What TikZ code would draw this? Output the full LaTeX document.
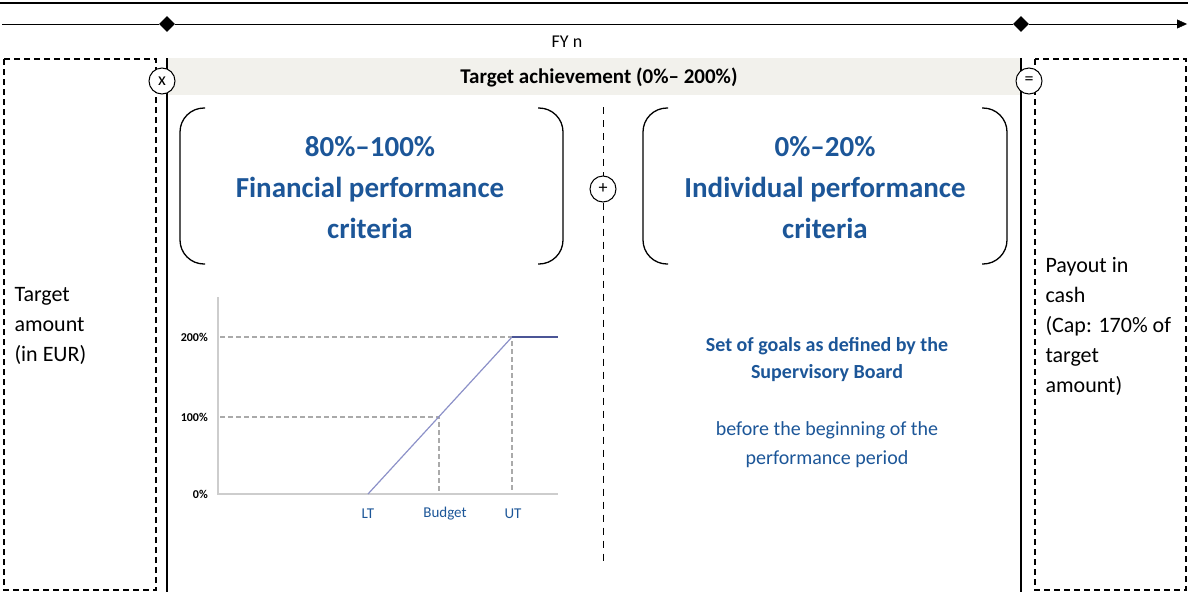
\documentclass[tikz,border=0pt]{standalone}
\usepackage{fontspec}
\setmainfont{Carlito}
\usetikzlibrary{arrows.meta, positioning, shapes.geometric}
\definecolor{accent}{RGB}{28,86,152}
\definecolor{band}{RGB}{242,241,236}
\definecolor{gridgray}{RGB}{170,170,170}
\definecolor{axisgray}{RGB}{205,205,205}
\definecolor{curve}{RGB}{140,145,200}
\definecolor{curvecap}{RGB}{75,85,150}

\begin{document}
\begin{tikzpicture}[x=1pt, y=-1pt,
   every node/.style={font=\fontsize{22}{30}\selectfont},
   op/.style={circle, draw, fill=white, line width=1pt, minimum size=26pt, inner sep=0pt, font=\fontsize{18}{18}\selectfont},
   ms/.style={diamond, fill=black, minimum size=16pt, inner sep=0pt},
   dbox/.style={draw, line width=1.3pt, dash pattern=on 6pt off 4pt},
   brk/.style={line width=1.3pt, rounded corners=24pt},
   head/.style={font=\fontsize{29}{41}\selectfont\bfseries, text=accent, align=center},
   axlab/.style={font=\fontsize{15}{15}\selectfont, text=accent},
   lvl/.style={font=\fontsize{12}{12}\selectfont\bfseries, anchor=east, inner sep=2pt},
   guide/.style={gridgray, line width=1.1pt, dash pattern=on 5pt off 3pt}]
  \useasboundingbox (0,0) rectangle (1188,592);

  % time line with the fiscal year
  \draw[line width=1.2pt] (0,3) -- (1188,3);
  \coordinate (t0) at (2,24);
  \coordinate (t1) at (1187,24);
  \node[ms] (fy0) at (167,24) {};
  \node[ms] (fy1) at (1021,24) {};
  \draw (t0) -- (fy0);
  \draw (fy0) -- (fy1);
  \draw[-{Triangle[length=10pt,width=9pt]}] (fy1) -- (t1);
  \node[font=\fontsize{18}{18}\selectfont] (fy) at (567,42) {FY n};

  % achievement band
  \fill[band] (167,58) rectangle (1021,95);
  \node[font=\fontsize{21}{21}\selectfont\bfseries] (goal) at (599,77) {Target achievement (0\%-- 200\%)};

  % target amount and payout
  \draw[dbox] (4,59) rectangle (156,590);
  \draw[dbox] (1035,59) rectangle (1186,590);
  \draw[line width=1.3pt] (167,58) -- (167,592);
  \draw[line width=1.3pt] (1021,58) -- (1021,592);
  \node[align=left, anchor=west] (amt) at (11,326) {Target\\amount\\(in EUR)};
  \node[align=left, anchor=west] (pay) at (1042,326) {Payout in\\cash\\(Cap: 170\% of\\target\\amount)};
  \node[op] (mul) at (162,81) {x};
  \node[op] (eq) at (1029,81) {=};

  % split between the two parts
  \coordinate (mtop) at (603,107);
  \coordinate (mbot) at (603,562);
  \node[op] (plus) at (603,189) {+};
  \draw[line width=1pt, dash pattern=on 7pt off 6pt] (mtop) -- (plus) -- (mbot);

  % brackets
  \draw[brk] (205,108) -| (180,186) |- (205,264);
  \draw[brk] (538,108) -| (563,186) |- (538,264);
  \draw[brk] (668,108) -| (643,186) |- (668,264);
  \draw[brk] (982,108) -| (1007,186) |- (982,264);
  \node[head] (fin) at (370,188) {80\%--100\%\\Financial performance\\criteria};
  \node[head] (ind) at (825,188) {0\%--20\%\\Individual performance\\criteria};

  % payout curve
  \coordinate (o) at (218,494);
  \coordinate (lt) at (368,494);
  \coordinate (bud) at (439,417);
  \coordinate (ut) at (512,337);
  \draw[guide] (220,337) -- (ut) -- (512,494);
  \draw[guide] (220,417) -- (bud) -- (439,494);
  \draw[axisgray, line width=1.5pt] (218,297) -- (o) -- (558,494);
  \draw[curve, line width=1.2pt] (lt) -- (ut);
  \draw[curvecap, line width=1.2pt] (ut) -- (558,337);
  \node[lvl] (l200) at (210,337) {200\%};
  \node[lvl] (l100) at (210,417) {100\%};
  \node[lvl] (l0) at (210,494) {0\%};
  \node[axlab] (xlt) at (368,514) {LT};
  \node[axlab] (xbud) at (445,514) {Budget};
  \node[axlab] (xut) at (513,514) {UT};

  % individual goals
  \node[font=\fontsize{20}{27}\selectfont\bfseries, text=accent, align=center] (goals) at (827,360)
       {Set of goals as defined by the\\Supervisory Board};
  \node[font=\fontsize{20}{29}\selectfont, text=accent, align=center] (when) at (827,445)
       {before the beginning of the\\performance period};
\end{tikzpicture}
\end{document}
